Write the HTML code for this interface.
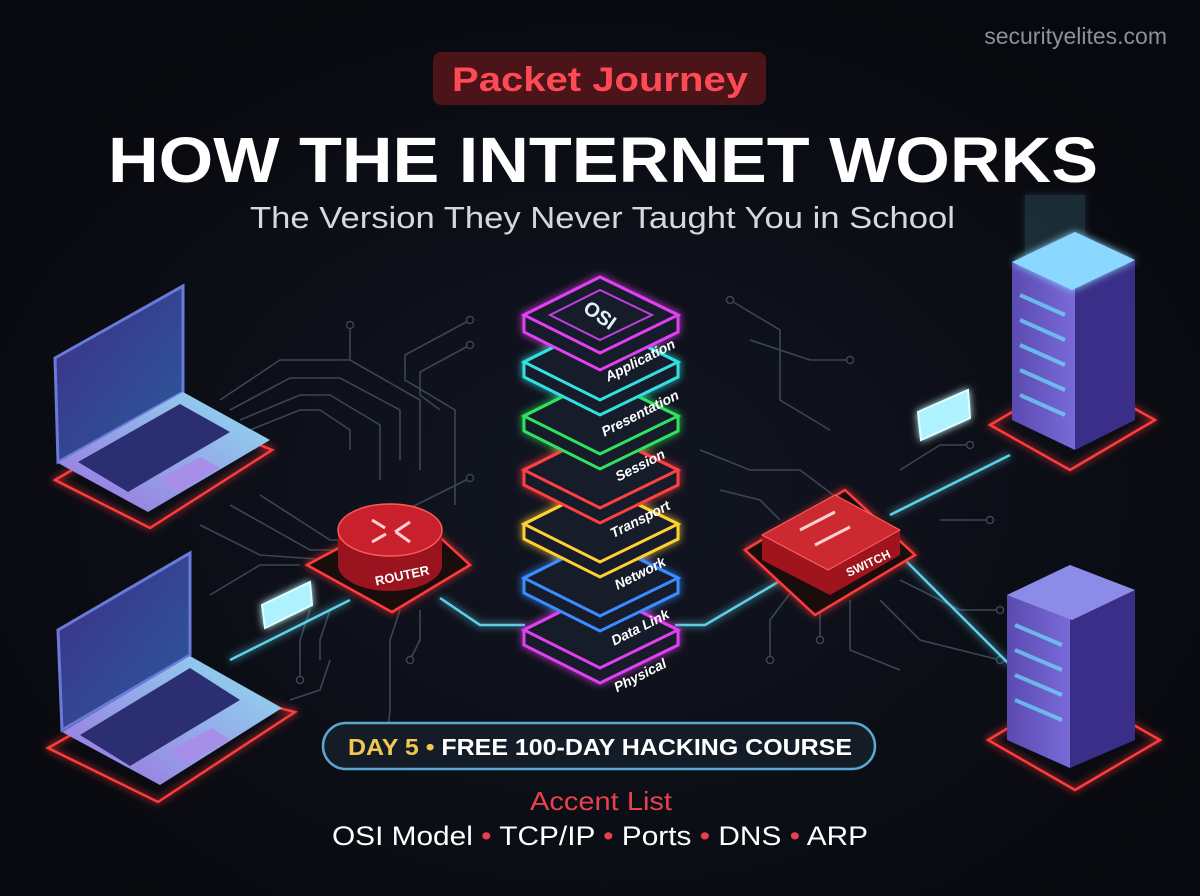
<!DOCTYPE html>
<html><head><meta charset="utf-8"><style>
body{margin:0;background:#0b0d13;}
svg{display:block}
text{font-family:"Liberation Sans",sans-serif}
</style></head><body>
<svg width="1200" height="896" viewBox="0 0 1200 896" xmlns="http://www.w3.org/2000/svg">
<defs>
<filter id="g" x="-50%" y="-50%" width="200%" height="200%"><feGaussianBlur stdDeviation="4" result="b"/><feMerge><feMergeNode in="b"/><feMergeNode in="SourceGraphic"/></feMerge></filter>
<linearGradient id="scr" x1="0" y1="0" x2="1" y2="1"><stop offset="0" stop-color="#3e2f8a"/><stop offset="1" stop-color="#2a5a9a"/></linearGradient>
<linearGradient id="base" x1="0" y1="1" x2="1" y2="0"><stop offset="0" stop-color="#9a6fe0"/><stop offset="1" stop-color="#8fe0f0"/></linearGradient>
<linearGradient id="srv" x1="0" y1="0" x2="1" y2="0"><stop offset="0" stop-color="#5a4ab0"/><stop offset="1" stop-color="#7a6ad8"/></linearGradient>
<radialGradient id="bg" cx="0.5" cy="0.55" r="0.6"><stop offset="0" stop-color="#121622"/><stop offset="1" stop-color="#08090e"/></radialGradient>
</defs>
<rect width="1200" height="896" fill="url(#bg)"/>
<g stroke="#3a4656" stroke-width="1.6" fill="none">
<path d="M220 400 L280 360 L350 360 L420 400 L420 470"/>
<path d="M230 410 L290 378 L340 378 L400 410 L400 460"/>
<path d="M240 420 L300 395 L330 395 L380 425 L380 480"/>
<path d="M250 430 L300 410 L320 410 L350 430 L350 450"/>
<path d="M350 325 L350 360"/>
<path d="M470 320 L405 355 L405 380 L455 410 L455 505"/>
<path d="M470 345 L420 372 L420 395 L440 410"/>
<path d="M470 478 L410 508"/>
<path d="M260 495 L330 540 L360 540"/>
<path d="M230 505 L310 550 L340 550"/>
<path d="M200 525 L260 555 L330 560"/>
<path d="M210 595 L260 565 L300 565"/>
<path d="M310 610 L300 640 L300 680"/>
<path d="M330 610 L320 640 L320 660"/>
<path d="M400 610 L390 640 L390 710 L388 730"/>
<path d="M420 610 L420 640 L410 660"/>
<path d="M290 700 L320 690 L330 660"/>
<path d="M700 450 L750 470 L800 470 L840 500"/>
<path d="M720 490 L760 500 L780 520"/>
<path d="M730 300 L780 330 L780 400 L830 430"/>
<path d="M750 340 L810 360 L850 360"/>
<path d="M900 470 L940 445 L970 445"/>
<path d="M880 600 L920 640 L1000 660"/>
<path d="M850 600 L850 650 L900 670"/>
<path d="M800 580 L770 620 L770 660"/>
<path d="M900 580 L960 610 L1000 610"/>
<path d="M820 590 L820 640"/>
<path d="M940 520 L990 520"/>
</g>
<g fill="#0b0d13" stroke="#3a4656" stroke-width="1.5">
<circle cx="350" cy="325" r="3.5"/><circle cx="470" cy="320" r="3.5"/><circle cx="470" cy="345" r="3.5"/><circle cx="470" cy="478" r="3.5"/><circle cx="300" cy="680" r="3.5"/><circle cx="410" cy="660" r="3.5"/><circle cx="770" cy="660" r="3.5"/><circle cx="820" cy="640" r="3.5"/><circle cx="850" cy="360" r="3.5"/><circle cx="970" cy="445" r="3.5"/><circle cx="1000" cy="660" r="3.5"/><circle cx="1000" cy="610" r="3.5"/><circle cx="990" cy="520" r="3.5"/><circle cx="730" cy="300" r="3.5"/>
</g>
<g stroke="#5fd0e8" stroke-width="2.5" fill="none" filter="url(#g)">
<path d="M230 660 L350 600"/>
<path d="M440 598 L480 625 L525 625"/>
<path d="M675 625 L705 625 L790 575"/>
<path d="M890 515 L1010 455"/>
<path d="M905 560 L1010 665"/>
</g>
<g filter="url(#g)">
<polygon points="262,605 310,582 312,605 265,628" fill="#aef2ff" stroke="#dfffff" stroke-width="2"/>
<polygon points="918,412 968,390 970,418 921,440" fill="#aef2ff" stroke="#dfffff" stroke-width="2"/>
</g>
<g>
<polygon points="55,480 175,410 272,450 150,528" fill="none" stroke="#ff3b3b" stroke-width="2.5" filter="url(#g)"/>
<polygon points="55,358 183,286 183,392 58,462" fill="url(#scr)" stroke="#6a7ad8" stroke-width="3"/>
<polygon points="58,463 183,392 270,440 148,512" fill="url(#base)"/>
<polygon points="78,462 180,404 230,432 128,492" fill="#2b2f72"/>
<polygon points="158,480 200,457 220,468 178,492" fill="#a78ee8"/>
</g>
<g>
<polygon points="48,748 168,680 295,712 158,802" fill="none" stroke="#ff3b3b" stroke-width="2.5" filter="url(#g)"/>
<polygon points="58,630 190,553 190,655 62,730" fill="url(#scr)" stroke="#6a7ad8" stroke-width="3"/>
<polygon points="62,732 190,656 282,708 160,785" fill="url(#base)"/>
<polygon points="80,735 190,668 240,700 130,766" fill="#2b2f72"/>
<polygon points="168,752 212,728 230,740 186,765" fill="#a78ee8"/>
</g>
<g>
<polygon points="307,565 410,510 470,565 392,612" fill="#1a0c10" stroke="#ff3b3b" stroke-width="2.5" filter="url(#g)"/>
<path d="M338 530 L338 565 A52 26 0 0 0 442 565 L442 530 Z" fill="#9a1420"/>
<ellipse cx="390" cy="530" rx="52" ry="26" fill="#c8202c" stroke="#ff5a5a" stroke-width="1.5"/>
<g stroke="#ffd0d0" stroke-width="3"><path d="M372 520 L385 528"/><path d="M395 532 L410 522"/><path d="M372 542 L386 534"/><path d="M396 532 L410 542"/></g>
<text x="402" y="580" font-size="13" fill="#fff" font-weight="bold" transform="rotate(-12 402 575)" text-anchor="middle">ROUTER</text>
</g>
<g>
<polygon points="745,550 845,490 915,555 815,615" fill="#1a0c10" stroke="#ff3b3b" stroke-width="2.5" filter="url(#g)"/>
<polygon points="762,535 835,495 900,530 900,555 830,595 762,560" fill="#a0141e"/>
<polygon points="762,535 835,495 900,530 828,570" fill="#cc2a30" stroke="#ff6060" stroke-width="1"/>
<g stroke="#ffd0d0" stroke-width="3"><path d="M800 530 L835 512"/><path d="M815 545 L850 527"/></g>
<text x="870" y="567" font-size="12" fill="#fff" font-weight="bold" transform="rotate(-25 870 567)" text-anchor="middle">SWITCH</text>
</g>
<g>
<polygon points="990,425 1075,375 1155,420 1070,470" fill="none" stroke="#ff3b3b" stroke-width="2.5" filter="url(#g)"/>
<rect x="1025" y="195" width="60" height="60" fill="#7fe6ff" opacity="0.15" filter="url(#g)"/>
<polygon points="1012,262 1075,232 1075,450 1012,420" fill="url(#srv)"/>
<polygon points="1075,232 1135,260 1135,420 1075,450" fill="#3a2e88"/>
<polygon points="1012,262 1075,232 1135,260 1072,290" fill="#8ad8ff" filter="url(#g)"/>
<g stroke="#6de0ff" stroke-width="4" opacity="0.7"><path d="M1020 295 L1065 315"/><path d="M1020 320 L1065 340"/><path d="M1020 345 L1065 365"/><path d="M1020 370 L1065 390"/><path d="M1020 395 L1065 415"/></g>
</g>
<g>
<polygon points="988,740 1072,690 1160,740 1075,790" fill="none" stroke="#ff3b3b" stroke-width="2.5" filter="url(#g)"/>
<polygon points="1007,595 1070,565 1070,768 1007,740" fill="url(#srv)"/>
<polygon points="1070,565 1135,590 1135,740 1070,768" fill="#3a2e88"/>
<polygon points="1007,595 1070,565 1135,590 1072,620" fill="#8a8ce8"/>
<g stroke="#6de0ff" stroke-width="4" opacity="0.7"><path d="M1015 625 L1062 645"/><path d="M1015 650 L1062 670"/><path d="M1015 675 L1062 695"/><path d="M1015 700 L1062 720"/></g>
</g>
<g filter="url(#g)">
<g stroke-width="3" fill="#161a2c">
<path d="M524 630 L600 592 L678 630 L678 645 L600 683 L524 645 Z" stroke="#e040f0"/>
<path d="M524 630 L600 592 L678 630 L600 668 Z" stroke="#e040f0"/>
<path d="M524 578 L600 540 L678 578 L678 593 L600 631 L524 593 Z" stroke="#3a8cff"/>
<path d="M524 578 L600 540 L678 578 L600 616 Z" stroke="#3a8cff"/>
<path d="M524 524 L600 486 L678 524 L678 539 L600 577 L524 539 Z" stroke="#ffd030"/>
<path d="M524 524 L600 486 L678 524 L600 562 Z" stroke="#ffd030"/>
<path d="M524 470 L600 432 L678 470 L678 485 L600 523 L524 485 Z" stroke="#ff4040"/>
<path d="M524 470 L600 432 L678 470 L600 508 Z" stroke="#ff4040"/>
<path d="M524 416 L600 378 L678 416 L678 431 L600 469 L524 431 Z" stroke="#30e060"/>
<path d="M524 416 L600 378 L678 416 L600 454 Z" stroke="#30e060"/>
<path d="M524 362 L600 324 L678 362 L678 377 L600 415 L524 377 Z" stroke="#30e0e0"/>
<path d="M524 362 L600 324 L678 362 L600 400 Z" stroke="#30e0e0"/>
<path d="M524 315 L600 277 L678 315 L678 332 L600 370 L524 332 Z" stroke="#e040f0"/>
<path d="M524 315 L600 277 L678 315 L600 353 Z" stroke="#e040f0"/>
<path d="M550 315 L600 290 L652 315 L600 340 Z" stroke="#c040e0" stroke-width="2"/>
</g>
</g>
<text x="600" y="322" font-size="20" font-weight="bold" fill="#e0f0ff" text-anchor="middle" transform="rotate(35 600 315)">OSI</text>
<g font-size="14" font-weight="bold" fill="#fff" font-style="italic" text-anchor="middle">
<text x="640" y="365" transform="rotate(-27 640 360)">Application</text>
<text x="640" y="418" transform="rotate(-27 640 413)">Presentation</text>
<text x="640" y="470" transform="rotate(-27 640 465)">Session</text>
<text x="640" y="524" transform="rotate(-27 640 519)">Transport</text>
<text x="640" y="578" transform="rotate(-27 640 573)">Network</text>
<text x="640" y="632" transform="rotate(-27 640 627)">Data Link</text>
<text x="640" y="680" transform="rotate(-27 640 675)">Physical</text>
</g>
<text x="1167" y="44" font-size="23" fill="#8a909c" text-anchor="end">securityelites.com</text>
<rect x="433" y="52" width="333" height="53" rx="8" fill="#4a1418"/>
<text x="452" y="91" font-size="34" font-weight="bold" fill="#ff4a55" textLength="296" lengthAdjust="spacingAndGlyphs">Packet Journey</text>
<text x="108" y="182" font-size="64" font-weight="bold" fill="#fff" textLength="990" lengthAdjust="spacingAndGlyphs">HOW THE INTERNET WORKS</text>
<text x="250" y="228" font-size="31" fill="#d8d8dc" textLength="705" lengthAdjust="spacingAndGlyphs">The Version They Never Taught You in School</text>
<rect x="323" y="723" width="552" height="46" rx="23" fill="#141c28" stroke="#5aa8d0" stroke-width="2.5"/>
<text x="348" y="755" font-size="23" font-weight="bold" fill="#fff" textLength="504" lengthAdjust="spacingAndGlyphs"><tspan fill="#f0c850">DAY 5</tspan><tspan fill="#f0c850"> • </tspan>FREE 100-DAY HACKING COURSE</text>
<text x="530" y="810" font-size="26" fill="#e8404c" textLength="142" lengthAdjust="spacingAndGlyphs">Accent List</text>
<text x="332" y="845" font-size="27" fill="#fff" textLength="536" lengthAdjust="spacingAndGlyphs">OSI Model <tspan fill="#e8404c">•</tspan> TCP/IP <tspan fill="#e8404c">•</tspan> Ports <tspan fill="#e8404c">•</tspan> DNS <tspan fill="#e8404c">•</tspan> ARP</text>
</svg>
</body></html>
